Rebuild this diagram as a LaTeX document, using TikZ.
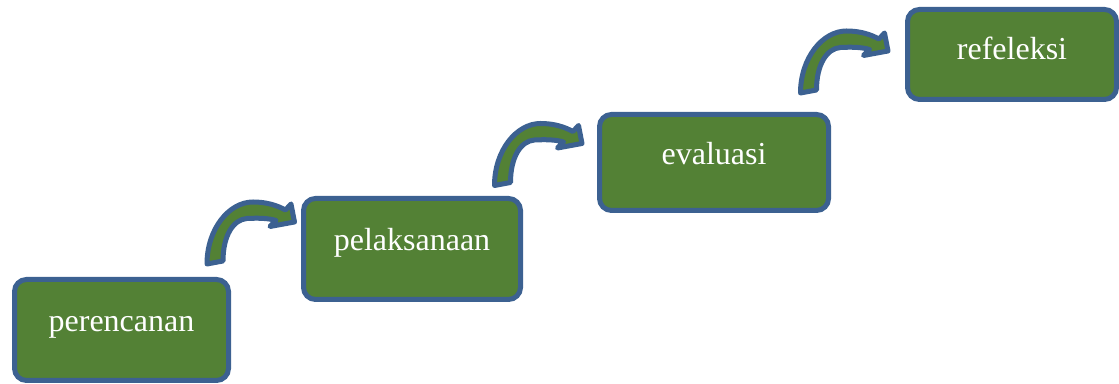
\documentclass[tikz,border=0pt]{standalone}
\usepackage{fontspec}
\setmainfont{Liberation Serif}
\definecolor{stepgreen}{HTML}{538135}
\definecolor{stepblue}{HTML}{3C6191}
\tikzset{
  stage/.style={draw=stepblue, fill=stepgreen, line width=2.5pt, rounded corners=6pt,
    outer sep=0pt, text=white, font=\fontsize{16}{19}\selectfont,
    text height=8pt, text depth=6pt},
  bentarrow/.style={draw=stepblue, fill=stepgreen, line width=2.5pt, line join=round}
}
\begin{document}
\begin{tikzpicture}[x=0.5pt, y=0.5pt]
\useasboundingbox (0,0) rectangle (1119,384);
\node[stage, minimum width=107pt, minimum height=50.5pt] (b1) at (121.5,54){perencanan};
\node[stage, minimum width=108.5pt, minimum height=50.5pt] (b2) at (412,135){pelaksanaan};
\node[stage, minimum width=114.5pt, minimum height=48pt] (b3) at (714,221.5){evaluasi};
\node[stage, minimum width=104.5pt, minimum height=45pt, text height=9pt, text depth=3.5pt] (b4) at (1012,329.5){refeleksi};

% bent arrows between the stages
\coordinate (s1) at ([shift={(-13.5,15.5)}]b1.north east);
\coordinate (s2) at ([shift={(-18,13)}]b2.north east);
\coordinate (s3) at ([shift={(-20,21.5)}]b3.north east);
\foreach \s in {s1,s2,s3}{
  \draw[bentarrow, shift={(\s)}] (-8,0) .. controls (-8,35) and (14,62) .. (38,62)
    .. controls (52,62) and (62,58.5) .. (70.5,54) -- (76,60) -- (79.5,42) -- (55,37.5) -- (61,43.5)
    .. controls (53,46) and (42,46) .. (32,45.5) .. controls (18,44.5) and (8,28) .. (8,3) -- cycle;
}
\end{tikzpicture}
\end{document}
